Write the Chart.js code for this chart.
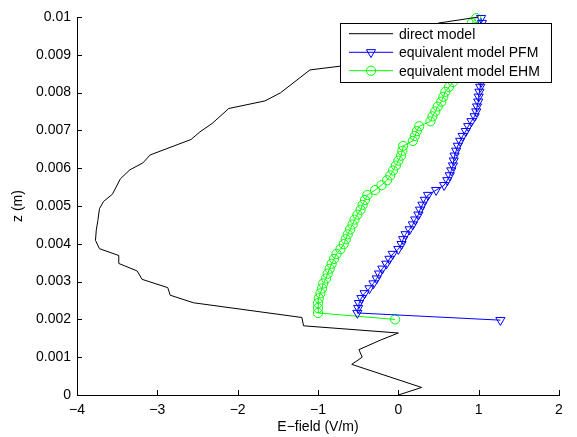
<!DOCTYPE html>
<html>
<head>
<meta charset="utf-8">
<script src="https://cdn.jsdelivr.net/npm/chart.js@4.4.1/dist/chart.umd.min.js"></script>
<style>
  body { margin: 0; background: #fff; }
</style>
</head>
<body>
<canvas id="efield-chart" width="577" height="437"></canvas>
<script>
// E-field profile along z: direct model vs two equivalent models

const FONT = "'Liberation Sans', Arial, sans-serif";

const directX = [0.0, 0.29, -0.58, -0.45, -0.49, -0.225, 0.0, -1.18, -1.2, -2.55,
    -2.84, -2.87, -3.19, -3.25, -3.48, -3.48, -3.72, -3.77, -3.76, -3.74,
    -3.72, -3.67, -3.56, -3.46, -3.34, -3.18, -3.09, -2.58, -2.47, -2.32,
    -2.11, -1.66, -1.47, -1.10, -0.72, 0.5, 1.0];
const directZ = [0.0, 0.0002, 0.00081, 0.001, 0.0012, 0.00145, 0.00164, 0.00183, 0.00205, 0.00244,
    0.00264, 0.00284, 0.00306, 0.00328, 0.00348, 0.00369, 0.00387, 0.00409, 0.00436, 0.00462,
    0.00493, 0.00512, 0.00531, 0.00572, 0.00596, 0.00614, 0.00635, 0.00676, 0.00696, 0.00718,
    0.00758, 0.00778, 0.00799, 0.0086, 0.0087, 0.00984, 0.01];

// z levels shared by both equivalent models
const zLevels = [0.00217, 0.0023, 0.00243, 0.00256, 0.00269, 0.00282, 0.00295, 0.00308, 0.00321, 0.00334,
    0.00347, 0.0036, 0.00373, 0.00386, 0.00399, 0.00412, 0.00425, 0.00438, 0.00451, 0.00464,
    0.00477, 0.0049, 0.00503, 0.00516, 0.00529, 0.00542, 0.00555, 0.00568, 0.00581, 0.00594,
    0.00607, 0.0062, 0.00633, 0.00646, 0.00659, 0.00672, 0.00685, 0.00698, 0.00711, 0.00724,
    0.00737, 0.0075, 0.00763, 0.00776, 0.00789, 0.00802, 0.00815, 0.00828, 0.00841, 0.00854,
    0.00867, 0.0088, 0.00893, 0.00906, 0.00919, 0.00932, 0.00945, 0.00958, 0.00971, 0.00984,
    0.00997];
const pfmX = [-0.51, -0.50, -0.49, -0.46, -0.42, -0.36, -0.31, -0.27, -0.24, -0.20,
    -0.15, -0.11, -0.07, 0.0, 0.04, 0.06, 0.09, 0.14, 0.18, 0.21,
    0.25, 0.27, 0.30, 0.33, 0.37, 0.47, 0.57, 0.61, 0.64, 0.66,
    0.68, 0.69, 0.70, 0.72, 0.74, 0.77, 0.80, 0.84, 0.87, 0.91,
    0.95, 0.97, 0.98, 0.995, 1.0, 1.01, 1.02, 1.03, 1.04, 1.05,
    1.06, 1.065, 1.07, 1.07, 1.07, 1.065, 1.06, 1.055, 1.05, 1.04,
    1.03];
const ehmX = [-1.0, -1.0, -1.0, -0.99, -0.97, -0.95, -0.935, -0.9, -0.88, -0.855,
    -0.83, -0.80, -0.77, -0.72, -0.68, -0.655, -0.63, -0.60, -0.57, -0.545,
    -0.51, -0.47, -0.445, -0.415, -0.385, -0.29, -0.21, -0.14, -0.10, -0.065,
    -0.03, 0.0, 0.035, 0.05, 0.06, 0.18, 0.205, 0.23, 0.26, 0.40,
    0.425, 0.46, 0.49, 0.535, 0.56, 0.585, 0.63, 0.68, 0.71, 0.735,
    0.755, 0.77, 0.785, 0.80, 0.815, 0.84, 0.86, 0.885, 0.90, 0.915,
    0.97];
// the lowest cell of each equivalent model
const pfmBottom = [1.27, 0.00198];
const ehmBottom = [-0.04, 0.002];

const xTicks = [-4, -3, -2, -1, 0, 1, 2];
const yTickLabels = ['0', '0.001', '0.002', '0.003', '0.004', '0.005', '0.006', '0.007', '0.008', '0.009', '0.01'];

const seriesNames = ['direct model', 'equivalent model PFM', 'equivalent model EHM'];

function pairUp(xs, zs) {
    return xs.map((x, i) => ({x: x, y: zs[i]}));
}

// matlab style ticks pointing into the axes
const inwardTicks = {
    id: 'inwardTicks',
    afterDraw(chart) {
        const ctx = chart.ctx;
        const xs = chart.scales.x, ys = chart.scales.y;
        const area = chart.chartArea;
        ctx.save();
        ctx.strokeStyle = '#000';
        ctx.lineWidth = 1;
        ctx.beginPath();
        xs.ticks.forEach(t => {
            const px = Math.round(xs.getPixelForValue(t.value)) + 0.5;
            ctx.moveTo(px, area.bottom);
            ctx.lineTo(px, area.bottom - 5);
        });
        ys.ticks.forEach(t => {
            const py = Math.round(ys.getPixelForValue(t.value)) + 0.5;
            ctx.moveTo(area.left, py);
            ctx.lineTo(area.left + 5, py);
        });
        ctx.stroke();
        ctx.restore();
    }
};

// boxed legend in the upper right of the axes
const boxLegend = {
    id: 'boxLegend',
    afterDraw(chart) {
        const ctx = chart.ctx;
        const left = 340.5, top = 23.5, w = 211, h = 59;
        const rows = [33.7, 52.3, 70.7];
        ctx.save();
        ctx.fillStyle = '#fff';
        ctx.fillRect(left, top, w, h);
        ctx.strokeStyle = '#000';
        ctx.lineWidth = 1;
        ctx.strokeRect(left, top, w, h);
        ctx.font = '14px ' + FONT;
        ctx.textBaseline = 'middle';
        chart.data.datasets.forEach((ds, i) => {
            const y = rows[i];
            ctx.strokeStyle = ds.borderColor;
            ctx.lineWidth = 1;
            ctx.beginPath();
            ctx.moveTo(349, y);
            ctx.lineTo(393, y);
            ctx.stroke();
            if (ds.pointRadius > 0) {
                ctx.fillStyle = 'rgba(0, 0, 0, 0)';
                ctx.strokeStyle = ds.pointBorderColor;
                Chart.helpers.drawPoint(ctx, {
                    pointStyle: ds.pointStyle,
                    rotation: ds.pointRotation || 0,
                    radius: ds.pointRadius,
                    borderWidth: 1
                }, 371, y);
            }
            ctx.fillStyle = '#000';
            ctx.fillText(ds.label, 399, y + 1);
        });
        ctx.restore();
    }
};

const EF_Chart = document.getElementById('efield-chart');

const efieldChart = new Chart(EF_Chart, {
    type: 'scatter',
    data: {
        datasets: [
            {
                label: seriesNames[0],
                data: pairUp(directX, directZ),
                showLine: true,
                borderColor: '#000',
                borderWidth: 1,
                pointRadius: 0,
                pointHoverRadius: 0,
                clip: false,
            },
            {
                label: seriesNames[1],
                data: [{x: pfmBottom[0], y: pfmBottom[1]}].concat(pairUp(pfmX, zLevels)),
                showLine: true,
                borderColor: 'rgb(0, 0, 255)',
                borderWidth: 1,
                pointStyle: 'triangle',
                pointRotation: 180,
                pointRadius: 5.3,
                pointBorderWidth: 1,
                pointBorderColor: 'rgb(0, 0, 255)',
                pointBackgroundColor: 'rgba(0, 0, 0, 0)',
                clip: false,
            },
            {
                label: seriesNames[2],
                data: [{x: ehmBottom[0], y: ehmBottom[1]}].concat(pairUp(ehmX, zLevels)),
                showLine: true,
                borderColor: 'rgb(0, 255, 0)',
                borderWidth: 1,
                pointStyle: 'circle',
                pointRadius: 4.6,
                pointBorderWidth: 1,
                pointBorderColor: 'rgb(0, 255, 0)',
                pointBackgroundColor: 'rgba(0, 0, 0, 0)',
                clip: false,
            },
        ],
    },
    options: {
        responsive: false,
        animation: false,
        layout: {
            padding: {left: 0, right: 18, top: 17, bottom: 0}
        },
        plugins: {
            legend: {display: false},
            tooltip: {enabled: false},
        },
        scales: {
            x: {
                type: 'linear',
                min: -4,
                max: 2,
                afterFit(scale) { scale.height = 42; },
                afterBuildTicks(scale) { scale.ticks = xTicks.map(v => ({value: v})); },
                grid: {display: false, drawTicks: false},
                border: {display: true, color: '#000', width: 1},
                ticks: {
                    padding: 7,
                    color: '#000',
                    font: {family: FONT, size: 14},
                    callback: v => String(v).replace('-', '\u2212'),
                },
                title: {
                    display: true,
                    text: 'E\u2212field (V/m)',
                    color: '#000',
                    font: {family: FONT, size: 14},
                    padding: {top: 0, bottom: 1},
                },
            },
            y: {
                type: 'linear',
                min: 0,
                max: 0.01,
                afterFit(scale) { scale.width = 77; },
                afterBuildTicks(scale) { scale.ticks = yTickLabels.map(s => ({value: parseFloat(s)})); },
                grid: {display: false, drawTicks: false},
                border: {display: true, color: '#000', width: 1},
                ticks: {
                    padding: 6,
                    color: '#000',
                    font: {family: FONT, size: 14},
                    callback: (v, i) => yTickLabels[i],
                },
                title: {
                    display: true,
                    text: 'z (m)',
                    color: '#000',
                    font: {family: FONT, size: 14},
                    padding: {top: 10, bottom: 0},
                },
            },
        },
    },
    plugins: [inwardTicks, boxLegend],
});
</script>
</body>
</html>
